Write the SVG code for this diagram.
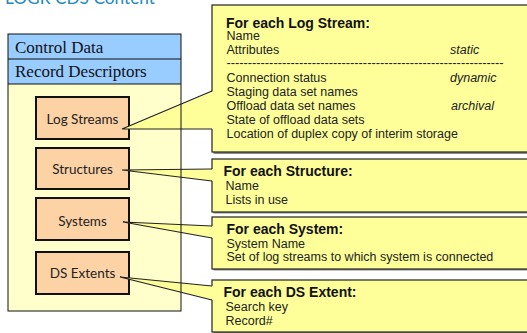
<svg xmlns="http://www.w3.org/2000/svg" width="527" height="333" viewBox="0 0 527 333">
<style>
.title{font-family:Lato,"Open Sans","DejaVu Sans",sans-serif;font-size:17px;fill:#2389c0}
.row{font-family:"Liberation Serif","Times New Roman",serif;font-size:17px;fill:#111}
.ob{fill:#fdd3a6;stroke:#111;stroke-width:2}
.obt{font-family:Lato,"Open Sans",sans-serif;font-size:13.5px;fill:#222;text-anchor:middle}
.cb{fill:#ffff99;stroke:#222;stroke-width:1.2}
.sh{fill:#8a8a8a}
.ct{font-family:"Liberation Sans",Arial,sans-serif;font-size:14px;font-weight:bold;fill:#111}
.bt{font-family:"Liberation Sans",Arial,sans-serif;font-size:12.5px;fill:#222}
.it{font-style:italic}
.wf{fill:#ffff99;stroke:none}
.wl{fill:none;stroke:#222;stroke-width:1.2}
</style>
<text class="title" x="5" y="3.5" textLength="150" lengthAdjust="spacingAndGlyphs">LOGR CDS Content</text>

<g id="cds">
  <rect x="8" y="34" width="173" height="277" fill="#ffffcc"/>
  <rect x="8" y="34" width="173" height="25" fill="#99ccff"/>
  <rect x="8" y="59" width="173" height="25" fill="#99ccff"/>
  <text class="row" x="15" y="52.5">Control Data</text>
  <text class="row" x="15" y="77">Record Descriptors</text>
</g>

<g id="log-streams">
  <rect class="ob" x="36" y="97" width="93" height="42"/>
  <text class="obt" x="82.5" y="124">Log Streams</text>
</g>
<g id="structures">
  <rect class="ob" x="36" y="148" width="93" height="41"/>
  <text class="obt" x="82.5" y="174">Structures</text>
</g>
<g id="systems">
  <rect class="ob" x="36" y="198" width="93" height="42"/>
  <text class="obt" x="82.5" y="225.5">Systems</text>
</g>
<g id="ds-extents">
  <rect class="ob" x="36" y="252" width="93" height="42"/>
  <text class="obt" x="82.5" y="278">DS Extents</text>
</g>

<g id="callout-log-stream">
  <rect class="sh" x="213.5" y="6.5" width="330" height="147.5"/>
  <rect class="cb" x="212" y="5" width="330" height="147"/>
  <text class="ct" x="226" y="27.5">For each Log Stream:</text>
  <text class="bt" x="226.5" y="40">Name</text>
  <text class="bt" x="226.5" y="54">Attributes</text>
  <text class="bt it" x="450" y="54">static</text>
  <text class="bt" x="226.5" y="67" textLength="277" lengthAdjust="spacingAndGlyphs">-----------------------------------------------------------------</text>
  <text class="bt" x="226.5" y="82">Connection status</text>
  <text class="bt it" x="450" y="82">dynamic</text>
  <text class="bt" x="226.5" y="96">Staging data set names</text>
  <text class="bt" x="226.5" y="110">Offload data set names</text>
  <text class="bt it" x="451" y="110">archival</text>
  <text class="bt" x="226.5" y="124">State of offload data sets</text>
  <text class="bt" x="226.5" y="138">Location of duplex copy of interim storage</text>
</g>

<g id="callout-structure">
  <rect class="sh" x="213.5" y="160.5" width="330" height="53"/>
  <rect class="cb" x="212" y="159" width="330" height="53"/>
  <text class="ct" x="223.5" y="176">For each Structure:</text>
  <text class="bt" x="225.5" y="190">Name</text>
  <text class="bt" x="225.5" y="204">Lists in use</text>
</g>

<g id="callout-system">
  <rect class="sh" x="213.5" y="218.5" width="330" height="52"/>
  <rect class="cb" x="212" y="217" width="330" height="52"/>
  <text class="ct" x="226.5" y="233.5">For each System:</text>
  <text class="bt" x="226.5" y="247.5">System Name</text>
  <text class="bt" x="226.5" y="261">Set of log streams to which system is connected</text>
</g>

<g id="callout-ds-extent">
  <rect class="sh" x="213.5" y="281.5" width="330" height="52"/>
  <rect class="cb" x="212" y="280" width="330" height="52"/>
  <text class="ct" x="223.5" y="296.5">For each DS Extent:</text>
  <text class="bt" x="225.5" y="310.5">Search key</text>
  <text class="bt" x="225.5" y="325">Record#</text>
</g>

<g id="connectors">
  <polygon class="wf" points="122,129 213.5,91 213.5,129"/>
  <polyline class="wl" points="212,91 122,129 212,129"/>
  <polygon class="wf" points="122,170 213.5,169 213.5,181"/>
  <polyline class="wl" points="212,169 122,170 212,181"/>
  <polygon class="wf" points="123,222 213.5,226 213.5,238"/>
  <polyline class="wl" points="212,226 123,222 212,238"/>
  <polygon class="wf" points="120,277 213.5,286 213.5,300"/>
  <polyline class="wl" points="212,286 120,277 212,300"/>
</g>

<g id="cds-outline">
  <rect x="8" y="34" width="173" height="277" fill="none" stroke="#111" stroke-width="1"/>
  <line x1="8" y1="59" x2="181" y2="59" stroke="#111" stroke-width="1"/>
  <line x1="8" y1="84" x2="181" y2="84" stroke="#111" stroke-width="1"/>
</g>
</svg>
